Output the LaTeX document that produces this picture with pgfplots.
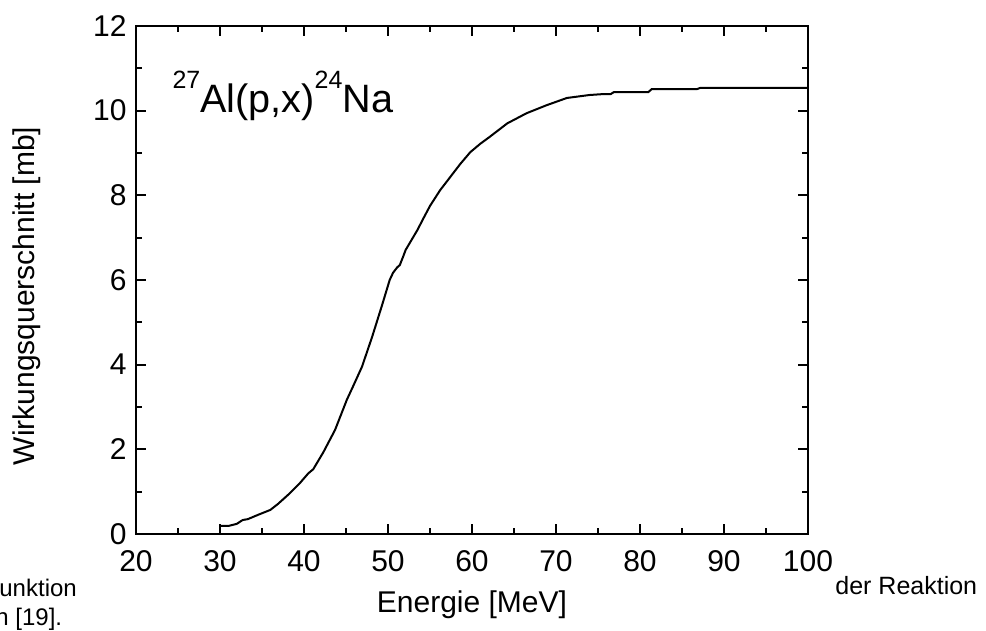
\documentclass[border=0pt]{standalone}
\usepackage{pgfplots}
\pgfplotsset{compat=1.18}
\usepackage{fontspec}
\setmainfont{Liberation Sans}
\begin{document}
\begin{tikzpicture}
\begin{axis}[
  at={(0,0)}, anchor=south west,
  scale only axis, width=336pt, height=254pt,
  xmin=20, xmax=100, ymin=0, ymax=12,
  xtick={20,30,...,100}, ytick={0,2,...,12},
  minor x tick num=1, minor y tick num=1,
  tick align=inside, xtick pos=both, ytick pos=both,
  major tick length=5pt, minor tick length=3pt,
  axis line style={line width=1pt},
  every tick/.style={line width=0.9pt, black},
  /pgf/number format/assume math mode=true,
  ticklabel style={font=\fontsize{15}{18}\selectfont},
  xticklabel style={yshift=-4.5pt},
  yticklabel style={xshift=-1.2pt},
]
\addplot[black, line width=1pt] coordinates {
(30,0.19)(31,0.19)(32,0.24)(32.7,0.33)(33.3,0.35)(34.5,0.45)(36,0.57)(36.9,0.71)
(38.3,0.96)(39.5,1.2)(40.5,1.43)(41.1,1.53)(42.3,1.93)(43.7,2.46)(45.1,3.17)
(45.8,3.47)(46.9,3.95)(48.1,4.65)(49.3,5.41)(50.2,6.0)(50.6,6.17)(51.1,6.3)
(51.4,6.35)(51.8,6.55)(52.1,6.71)(53.5,7.18)(54.2,7.45)(55.0,7.75)(56.2,8.12)
(57.4,8.43)(58.6,8.74)(59.8,9.02)(61.0,9.22)(62.1,9.38)(64.2,9.70)(66.5,9.94)
(68.9,10.13)(71.3,10.30)(74.0,10.37)(75.5,10.39)
(76.5,10.39)(76.9,10.44)(81.0,10.44)(81.4,10.51)(86.8,10.51)(87.2,10.54)(100,10.54)
};
\node[anchor=base west, inner sep=0pt] at (axis cs:24.3,9.95)
  {\fontsize{19.8}{23}\selectfont\raisebox{12pt}{\fontsize{12.5}{15}\selectfont 27}Al(p,x)\raisebox{12pt}{\fontsize{12.5}{15}\selectfont 24}Na};
\end{axis}
\node[anchor=base, inner sep=0pt, font=\fontsize{15}{18}\selectfont] at (168pt,-39.5pt) {Energie [MeV]};
\node[rotate=90, anchor=center, inner sep=0pt, font=\fontsize{15}{18}\selectfont] at (-54.5pt,119pt) {Wirkungsquerschnitt [mb]};
\node[anchor=base west, inner sep=0pt, font=\fontsize{12}{14}\selectfont] at (-68.5pt,-31.5pt) {unktion};
\node[anchor=base west, inner sep=0pt, font=\fontsize{12}{14}\selectfont] at (-70.5pt,-46pt) {n [19].};
\node[anchor=base west, inner sep=0pt, font=\fontsize{12.5}{15}\selectfont] at (349.5pt,-30.5pt) {der Reaktion};
\pgfresetboundingbox
\useasboundingbox (-68pt,-48.5pt) rectangle (425pt,267pt);
\end{tikzpicture}
\end{document}
